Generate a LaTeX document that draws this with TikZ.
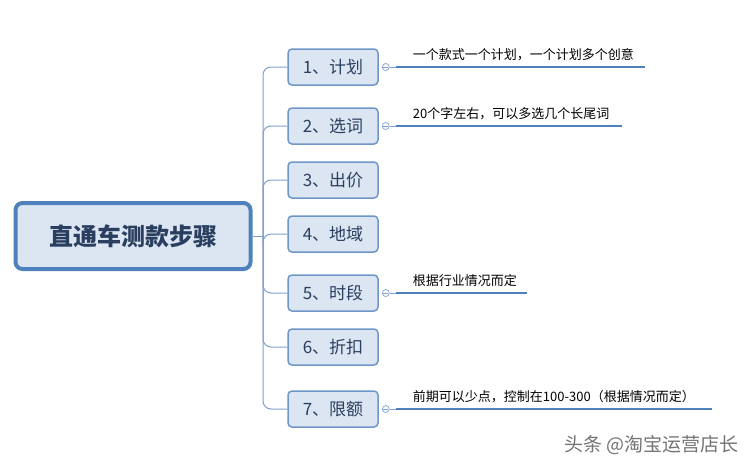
\documentclass[tikz,border=0pt]{standalone}
\usepackage{fontspec}
\setmainfont{Noto Sans CJK SC}
\begin{document}
\begin{tikzpicture}[x=1pt,y=-1pt,
  child/.style={draw=bd,line width=1.5pt,fill=fl,rounded corners=4pt,minimum width=90pt,minimum height=36pt,inner sep=0pt,font=\fontsize{17}{17}\selectfont,text=tx},
  branch/.style={draw=ln,line width=1pt},
  note/.style={draw=nl,line width=2.5pt},
  notetxt/.style={anchor=south west,font=\fontsize{13}{13}\selectfont,inner sep=0pt},
  knob/.style={circle,draw=ln,line width=0.7pt,inner sep=0pt,minimum size=7pt}]
\definecolor{bd}{HTML}{6F96C8}
\definecolor{fl}{HTML}{DCE6F2}
\definecolor{tx}{HTML}{2A3F5F}
\definecolor{ln}{HTML}{7F9FCC}
\definecolor{nl}{HTML}{4F81BD}
\useasboundingbox (0,0) rectangle (754,469);
\node[draw=nl,line width=4pt,fill=fl,rounded corners=7pt,minimum width=235pt,minimum height=66pt,font=\fontsize{24}{24}\selectfont\bfseries,text=tx] (root) at (133,236) {直通车测款步骤};
\foreach \n/\y/\t in {1/67/1、计划,2/126/2、选词,3/180/3、出价,4/234/4、地域,5/293/5、时段,6/347/6、折扣,7/409/7、限额}{
  \node[child] (c\n) at (333,\y) {\t};
}
\coordinate (j) at (263,236);
\draw[branch] (root.east) -- (j);
\foreach \n in {1,...,7}{
  \draw[branch,rounded corners=8pt] (j) |- (c\n.west);
}
\foreach \n/\e/\t in {1/645/一个款式一个计划，一个计划多个创意,2/622/20个字左右，可以多选几个长尾词,5/527/根据行业情况而定,7/712/前期可以少点，控制在100-300（根据情况而定）}{
  \node[knob] (k\n) at ([xshift=7pt]c\n.east) {};
  \draw[ln,line width=0.7pt] ([xshift=-2.5pt]k\n.center) -- ([xshift=2.5pt]k\n.center);
  \coordinate (s\n) at ([xshift=10pt]k\n.center);
  \coordinate (e\n) at (\e,0 |- k\n.center);
  \draw[branch] (k\n.east) -- (s\n);
  \draw[note] (s\n) -- (e\n);
  \node[notetxt] (t\n) at ([xshift=17pt,yshift=6pt]s\n) {\t};
}
\node[font=\fontsize{19}{19}\selectfont,text=black!55,anchor=east] (wm) at (742,445) {头条 @淘宝运营店长};
\end{tikzpicture}
\end{document}
